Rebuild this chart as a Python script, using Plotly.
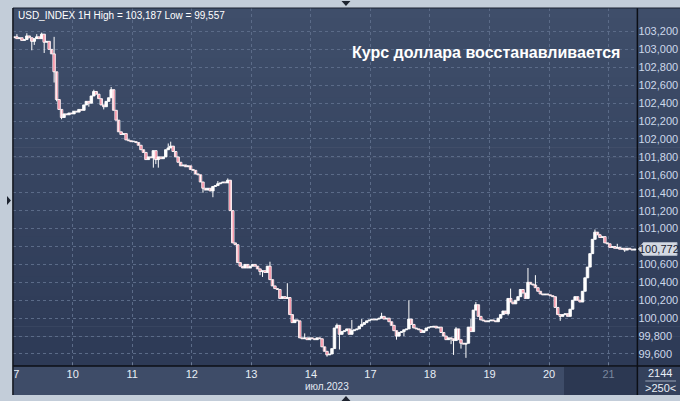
import plotly.graph_objects as go

# ---------------- data ----------------
day_labels = ["07", "10", "11", "12", "13", "14", "17", "18", "19", "20", "21"]
month_label = "июл.2023"

first_open = 103.13
close_jul07 = [103.14, 103.12, 103.13, 103.10, 103.11, 103.15, 103.13, 103.09, 103.12, 103.14, 103.12, 103.17,
               103.08, 103.09, 103.00, 102.95, 102.75, 102.44, 102.33, 102.24, 102.28, 102.27, 102.29, 102.28]
close_jul10 = [102.31, 102.30, 102.33, 102.32, 102.38, 102.42, 102.40, 102.48, 102.53, 102.50, 102.45, 102.38,
               102.36, 102.42, 102.46, 102.55, 102.32, 102.21, 102.08, 102.05, 102.06, 101.99, 101.98, 101.97]
close_jul11 = [101.97, 101.96, 101.93, 101.88, 101.85, 101.77, 101.80, 101.79, 101.87, 101.77, 101.80, 101.78,
               101.80, 101.88, 101.90, 101.92, 101.86, 101.80, 101.74, 101.70, 101.71, 101.69, 101.70, 101.66]
close_jul12 = [101.65, 101.61, 101.60, 101.52, 101.45, 101.43, 101.45, 101.42, 101.47, 101.48, 101.50, 101.51,
               101.52, 101.51, 101.54, 101.20, 100.84, 100.82, 100.62, 100.58, 100.56, 100.60, 100.56, 100.58]
close_jul13 = [100.60, 100.58, 100.55, 100.52, 100.53, 100.51, 100.58, 100.43, 100.36, 100.33, 100.32, 100.22,
               100.24, 100.22, 100.23, 100.04, 99.95, 99.98, 99.97, 99.78, 99.77, 99.78, 99.76, 99.78]
close_jul14 = [99.77, 99.76, 99.78, 99.77, 99.68, 99.63, 99.59, 99.60, 99.66, 99.89, 99.92, 99.82,
               99.85, 99.86, 99.88, 99.82, 99.86, 99.87, 99.88, 99.91, 99.93, 99.95, 99.97, 99.98]
close_jul17 = [99.99, 99.98, 99.99, 100.00, 100.02, 99.99, 100.00, 99.96, 99.92, 99.86, 99.80, 99.84,
               99.85, 99.87, 99.88, 99.99, 99.93, 99.89, 99.88, 99.87, 99.84, 99.86, 99.89, 99.90]
close_jul18 = [99.90, 99.91, 99.89, 99.90, 99.84, 99.80, 99.76, 99.78, 99.77, 99.75, 99.88, 99.76,
               99.72, 99.71, 99.72, 99.90, 99.85, 100.09, 100.15, 100.02, 99.98, 99.97, 99.96, 99.97]
close_jul19 = [99.98, 99.97, 99.96, 100.00, 100.04, 100.08, 100.05, 100.22, 100.18, 100.16, 100.20, 100.24,
               100.32, 100.28, 100.22, 100.40, 100.38, 100.37, 100.34, 100.30, 100.27, 100.26, 100.27, 100.26]
close_jul20 = [100.25, 100.24, 100.12, 100.04, 100.02, 100.04, 100.05, 100.02, 100.10, 100.20, 100.24, 100.20,
               100.18, 100.30, 100.45, 100.57, 100.72, 100.88, 100.96, 100.93, 100.90, 100.91, 100.84, 100.83]
close_jul21 = [100.79, 100.80, 100.78, 100.79, 100.77, 100.78, 100.76, 100.78, 100.77, 100.76, 100.772]

# visible wick extremes (bar index -> value)
high_wicks = {1: 103.17, 5: 103.18, 9: 103.17, 11: 103.187, 16: 103.14, 32: 102.55, 39: 102.58, 51: 101.92,
              62: 101.95, 63: 101.97, 82: 101.53, 86: 101.56, 103: 100.63, 110: 100.39, 117: 99.83, 130: 99.94,
              136: 99.98, 140: 99.99, 148: 100.06, 159: 100.20, 178: 99.90, 184: 99.99, 186: 100.18, 200: 100.33,
              207: 100.56, 210: 100.48, 234: 100.99, 236: 100.94, 243: 100.83}
low_wicks = {7: 102.99, 8: 103.05, 12: 102.96, 16: 102.63, 17: 102.42, 19: 102.22, 30: 102.36, 36: 102.33,
             56: 101.68, 57: 101.72, 58: 101.68, 76: 101.40, 80: 101.35, 99: 100.48, 100: 100.46, 126: 99.57,
             131: 99.65, 154: 99.76, 157: 99.80, 176: 99.71, 177: 99.59, 180: 99.66, 182: 99.557, 199: 100.03,
             220: 99.97, 246: 100.74}

y_ticks = [99.6, 99.8, 100.0, 100.2, 100.4, 100.6, 100.8, 101.0, 101.2, 101.4, 101.6, 101.8, 102.0,
           102.2, 102.4, 102.6, 102.8, 103.0, 103.2]
last_price = 100.772

# ---------------- build OHLC ----------------
days = [close_jul07, close_jul10, close_jul11, close_jul12, close_jul13, close_jul14,
        close_jul17, close_jul18, close_jul19, close_jul20, close_jul21]
closes = [c for d in days for c in d]
opens = [first_open] + closes[:-1]
highs = [max(o, c, high_wicks.get(i, c)) for i, (o, c) in enumerate(zip(opens, closes))]
lows = [min(o, c, low_wicks.get(i, c)) for i, (o, c) in enumerate(zip(opens, closes))]
xs = list(range(len(closes)))

day_starts = []
pos = 0
for d in days:
    day_starts.append(pos - 0.5)
    pos += len(d)

tick_text = list(day_labels)
tick_text[-1] = "<span style='color:#7a879f'>" + day_labels[-1] + "</span>"

y_text = []
for v in y_ticks:
    s = "{:.3f}".format(v).replace(".", ",")
    if abs(v - last_price) < 0.1:
        s = ""  # hidden behind the last-price marker
    y_text.append(s)

UP, DOWN = "#ffffff", "#f0103a"
MIN_BODY = 0.006  # thinnest visible body (doji)
bases = [min(o, c) for o, c in zip(opens, closes)]
heights = [max(abs(c - o), MIN_BODY) for o, c in zip(opens, closes)]
colors = [UP if c >= o else DOWN for o, c in zip(opens, closes)]

wx, wy = [], []
for i in xs:
    wx += [i, i, None]
    wy += [lows[i], highs[i], None]

W, H = 680, 401
def px(x): return x / W
def py(y): return 1 - y / H

fig = go.Figure()
fig.add_trace(go.Scatter(x=wx, y=wy, mode="lines", line=dict(color="#ffffff", width=1),
                         hoverinfo="skip", showlegend=False))
fig.add_trace(go.Bar(x=xs, y=heights, base=bases, width=1.0,
                     marker=dict(color=colors, line=dict(color="#ffffff", width=0.9)),
                     hoverinfo="skip", showlegend=False))

shapes = []
top_c = (63, 78, 106)
bot_c = (45, 58, 86)
y0, y1 = 8, 366
nb = 36
for k in range(nb):
    t = k / (nb - 1)
    col = tuple(round(top_c[j] + (bot_c[j] - top_c[j]) * t) for j in range(3))
    ya = y0 + (y1 - y0) * k / nb
    yb = y0 + (y1 - y0) * (k + 1) / nb + 0.6
    shapes.append(dict(type="rect", xref="paper", yref="paper", x0=px(7), x1=px(680), y0=py(ya), y1=py(yb),
                       fillcolor="rgb(%d,%d,%d)" % col, line=dict(width=0), layer="below"))
shapes.append(dict(type="rect", xref="paper", yref="paper", x0=px(7), x1=px(637), y0=py(366), y1=py(395),
                   fillcolor="#3e4c68", line=dict(width=0), layer="below"))
shapes.append(dict(type="rect", xref="paper", yref="paper", x0=px(563), x1=px(637), y0=py(367), y1=py(395),
                   fillcolor="#2c3852", line=dict(width=0), layer="below"))
shapes.append(dict(type="rect", xref="paper", yref="paper", x0=px(637), x1=px(680), y0=py(366), y1=py(395),
                   fillcolor="#34415c", line=dict(width=0), layer="below"))
shapes.append(dict(type="line", xref="paper", yref="paper", x0=px(637), x1=px(637), y0=py(8), y1=py(395),
                   line=dict(color="#0c0f16", width=1.5), layer="above"))
shapes.append(dict(type="line", xref="paper", yref="paper", x0=px(7), x1=px(680), y0=py(366), y1=py(366),
                   line=dict(color="#0c0f16", width=1.5), layer="above"))
shapes.append(dict(type="line", xref="paper", yref="paper", x0=px(7), x1=px(680), y0=py(8), y1=py(8),
                   line=dict(color="#1a2030", width=1), layer="above"))
shapes.append(dict(type="rect", xref="paper", yref="paper", x0=0, x1=px(6.5), y0=py(395), y1=1,
                   fillcolor="#c3cdd9", line=dict(width=0), layer="above"))
shapes.append(dict(type="line", xref="paper", yref="paper", x0=px(7), x1=px(7), y0=py(8), y1=py(395),
                   line=dict(color="#10141c", width=1.5), layer="above"))
def tri(path):
    return dict(type="path", xref="paper", yref="paper", path=path, fillcolor="#1e2430",
                line=dict(width=0), layer="above")
def P(x, y): return "%f,%f" % (px(x), py(y))
shapes.append(tri("M %s L %s L %s Z" % (P(338.5, 1), P(347.5, 1), P(343, 6))))
shapes.append(tri("M %s L %s L %s Z" % (P(338.5, 401), P(347.5, 401), P(343, 396))))
shapes.append(tri("M %s L %s L %s Z" % (P(1, 196), P(1, 205), P(5, 200.5))))
ylp = 249
shapes.append(dict(type="path", xref="paper", yref="paper",
                   path="M %s L %s L %s L %s L %s Z" % (P(638, ylp), P(643, ylp - 6.5), P(677, ylp - 6.5),
                                                       P(677, ylp + 6.5), P(643, ylp + 6.5)),
                   fillcolor="#d3d9e2", line=dict(color="#aab3c2", width=1), layer="above"))
shapes.append(dict(type="line", xref="paper", yref="paper", x0=px(645), x1=px(676), y0=py(381), y1=py(381),
                   line=dict(color="#9aa6b8", width=1), layer="above"))

FONT = "Arial, Liberation Sans, sans-serif"
annotations = [
    dict(xref="paper", yref="paper", x=px(10), y=py(16), xanchor="left", yanchor="middle", showarrow=False,
         text="USD_INDEX 1H High = 103,187 Low = 99,557", font=dict(family=FONT, size=10, color="#ffffff")),
    dict(xref="paper", yref="paper", x=px(347), y=py(53), xanchor="left", yanchor="middle", showarrow=False,
         text="<b>Курс доллара восстанавливается</b>", font=dict(family=FONT, size=16, color="#ffffff")),
    dict(xref="paper", yref="paper", x=px(324), y=py(386), xanchor="center", yanchor="middle", showarrow=False,
         text=month_label, font=dict(family=FONT, size=10, color="#e4eaf3")),
    dict(xref="paper", yref="paper", x=px(660), y=py(373), xanchor="center", yanchor="middle", showarrow=False,
         text="2144", font=dict(family=FONT, size=11, color="#e8eef6")),
    dict(xref="paper", yref="paper", x=px(660), y=py(388), xanchor="center", yanchor="middle", showarrow=False,
         text="&gt;250&lt;", font=dict(family=FONT, size=11, color="#e8eef6")),
    dict(xref="paper", yref="paper", x=px(659), y=py(ylp), xanchor="center", yanchor="middle", showarrow=False,
         text="{:.3f}".format(last_price).replace(".", ","), font=dict(family=FONT, size=11, color="#1a2232")),
]

fig.update_layout(
    width=W, height=H, margin=dict(l=0, r=0, t=0, b=0), autosize=False,
    paper_bgcolor="#c3cdd9", plot_bgcolor="rgba(0,0,0,0)",
    separators=", ", showlegend=False, hovermode=False, barmode="overlay",
    shapes=shapes, annotations=annotations,
    xaxis=dict(domain=[px(7), px(637)], range=[-0.6, 251.1],
               tickmode="array", tickvals=day_starts, ticktext=tick_text,
               showgrid=True, gridcolor="#5b6b88", griddash="3px,3px", gridwidth=1,
               ticks="inside", ticklen=3, tickcolor="#6d7c96",
               tickfont=dict(family=FONT, size=11, color="#e8eef6"),
               showline=False, zeroline=False, fixedrange=True),
    yaxis=dict(domain=[py(366), py(8)], range=[99.466, 103.462], side="right",
               tickmode="array", tickvals=y_ticks, ticktext=y_text,
               showgrid=True, gridcolor="#5b6b88", griddash="3px,3px", gridwidth=1,
               ticks="", tickfont=dict(family=FONT, size=11, color="#cdd8ea"),
               showline=False, zeroline=False, fixedrange=True),
)

fig.write_html("out.html", config={"displayModeBar": False, "staticPlot": True},
               post_script="document.body.style.margin='0';document.body.style.overflow='hidden';")
